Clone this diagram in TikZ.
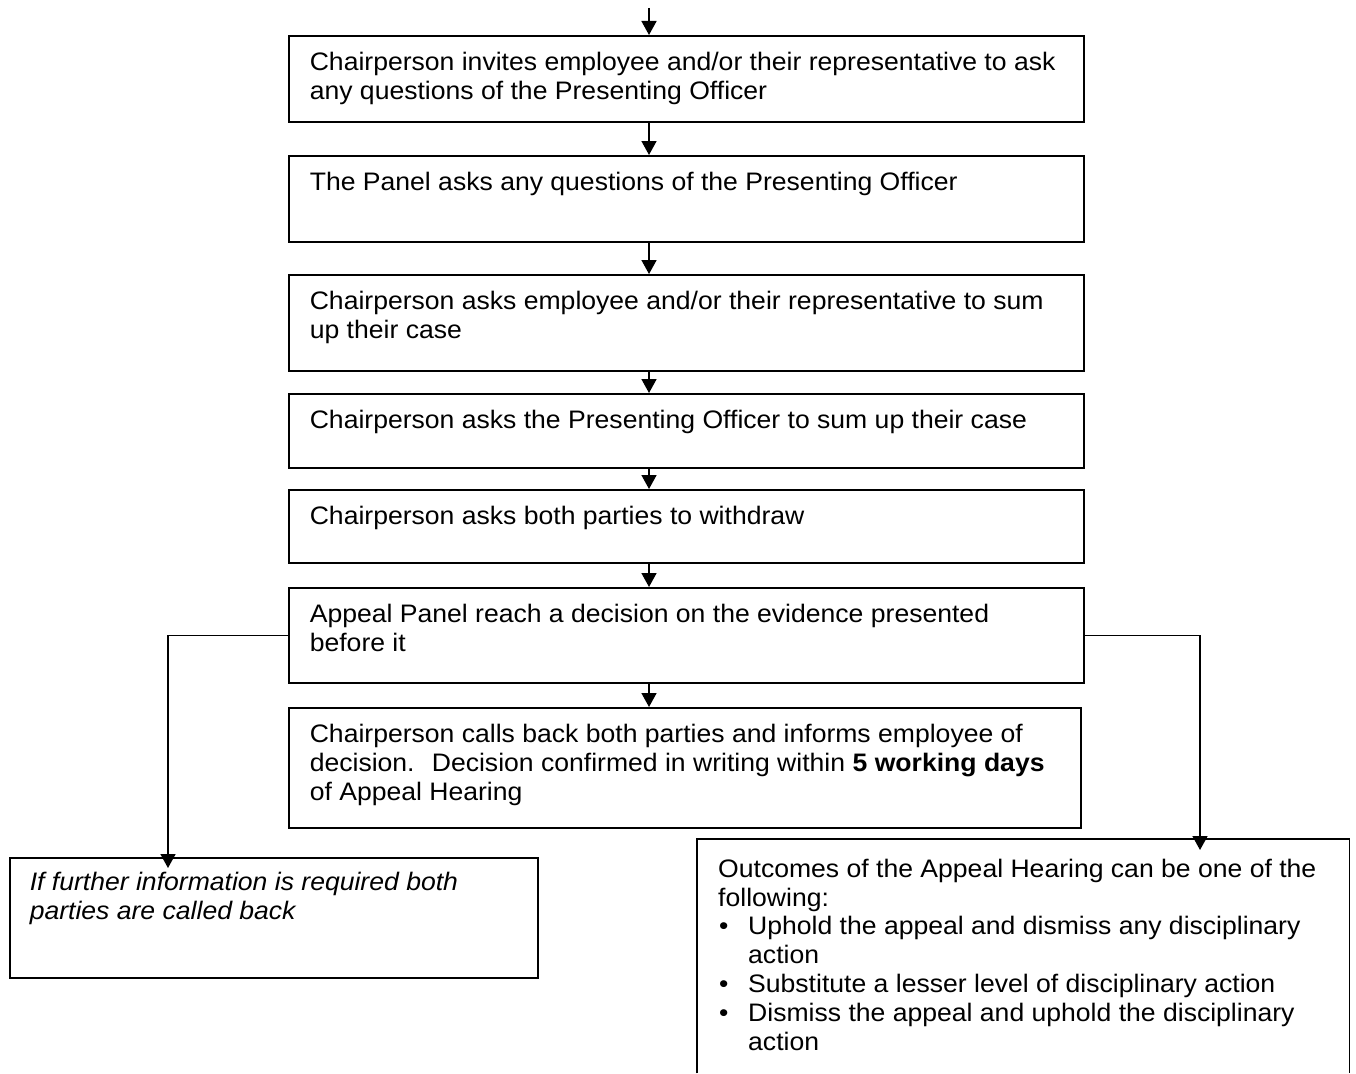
\documentclass[tikz,border=0pt]{standalone}
\usepackage{fontspec}
\setmainfont{Liberation Sans}[FakeStretch=1.05]
\usetikzlibrary{arrows.meta}
\newcommand{\boxtext}[5]{\begin{minipage}[t][#2][t]{#1}\raggedright\leftskip=#3\relax\rule{0pt}{#4}#5\end{minipage}}
\newcommand{\bul}{\par\hangindent=30pt\hangafter=1\noindent\makebox[30pt][l]{\hspace{1pt}\textbullet}}
\begin{document}
\begin{tikzpicture}[x=1pt,y=-1pt,
  box/.style={draw, line width=1.6pt, anchor=north west, inner sep=0pt, align=left},
  openbox/.style={anchor=north west, inner sep=0pt, align=left},
  arr/.style={line width=1.6pt, -{Triangle[length=14pt,width=15pt]}},
  every node/.style={font=\fontsize{25.3}{28.8}\selectfont}]
\useasboundingbox (0,0) rectangle (1356,1073);
\coordinate (xa) at (649,0);
\coordinate (xl) at (168,0);
\coordinate (xr) at (1200,0);
\coordinate (top) at (649,8);

\node[box] (b1) at (288,35) {\boxtext{795pt}{86pt}{21pt}{35pt}{Chairperson invites employee and/or their representative to ask\\any questions of the Presenting Officer}};
\node[box] (b2) at (288,155) {\boxtext{795pt}{86pt}{21pt}{35pt}{The Panel asks any questions of the Presenting Officer}};
\node[box] (b3) at (288,274) {\boxtext{795pt}{96pt}{21pt}{35pt}{Chairperson asks employee and/or their representative to sum\\up their case}};
\node[box] (b4) at (288,393) {\boxtext{795pt}{74pt}{21pt}{35pt}{Chairperson asks the Presenting Officer to sum up their case}};
\node[box] (b5) at (288,489) {\boxtext{795pt}{73pt}{21pt}{35pt}{Chairperson asks both parties to withdraw}};
\node[box] (b6) at (288,587) {\boxtext{795pt}{95pt}{21pt}{35pt}{Appeal Panel reach a decision on the evidence presented\\before it}};
\node[box] (b7) at (288,707) {\boxtext{792pt}{120pt}{21pt}{35pt}{Chairperson calls back both parties and informs employee of\\decision.~ Decision confirmed in writing within \textbf{5 working days}\\of Appeal Hearing}};
\node[box] (L) at (9,857) {\boxtext{528pt}{120pt}{20pt}{33pt}{\itshape If further information is required both\\parties are called back}};
\node[openbox] (R) at (697,839) {\boxtext{652pt}{234pt}{21pt}{38pt}{Outcomes of the Appeal Hearing can be one of the\\following:\bul Uphold the appeal and dismiss any disciplinary\newline action\bul Substitute a lesser level of disciplinary action\bul Dismiss the appeal and uphold the disciplinary\newline action}};
\draw[line width=1.6pt] (R.south west) -- (R.north west) -- (R.north east) -- (R.south east);

\draw[arr] (top) -- (b1.north -| xa);
\draw[arr] (b1.south -| xa) -- (b2.north -| xa);
\draw[arr] (b2.south -| xa) -- (b3.north -| xa);
\draw[arr] (b3.south -| xa) -- (b4.north -| xa);
\draw[arr] (b4.south -| xa) -- (b5.north -| xa);
\draw[arr] (b5.south -| xa) -- (b6.north -| xa);
\draw[arr] (b6.south -| xa) -- (b7.north -| xa);
\draw[arr, shorten >=-11pt] (b6.west) -| (L.north -| xl);
\draw[arr, shorten >=-11pt] (b6.east) -| (R.north -| xr);
\end{tikzpicture}
\end{document}
